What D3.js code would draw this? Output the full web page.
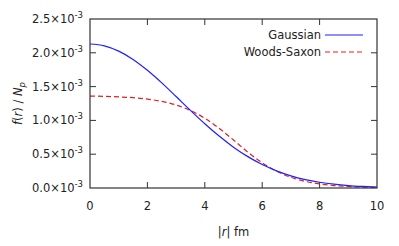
<!DOCTYPE html>
<html>
<head>
<meta charset="utf-8">
<script src="https://cdn.jsdelivr.net/npm/d3@7"></script>
<style>
  body { margin: 0; background: #fff; }
  svg { display: block; font-family: "DejaVu Sans", sans-serif; }
</style>
</head>
<body>
<script>
// radius |r| in fm
var radius = [0, 0.5, 1, 1.5, 2, 2.5, 3, 3.5, 4, 4.5, 5, 5.5, 6, 6.5, 7, 7.5, 8, 8.5, 9, 9.5, 10];
// f(r)/Np in units of 1e-3
var gaussian = [2.130, 2.103, 2.025, 1.902, 1.741, 1.555, 1.353, 1.149, 0.951, 0.768, 0.604,
                0.464, 0.347, 0.254, 0.180, 0.125, 0.085, 0.056, 0.036, 0.023, 0.014];
var woodsSaxon = [1.360, 1.356, 1.348, 1.336, 1.315, 1.281, 1.228, 1.147, 1.032, 0.883, 0.709,
                  0.531, 0.373, 0.248, 0.158, 0.098, 0.060, 0.036, 0.022, 0.013, 0.008];
var xTicks = [0, 2, 4, 6, 8, 10];
var yTicks = [0, 0.5, 1.0, 1.5, 2.0, 2.5];
var seriesNames = ["Gaussian", "Woods-Saxon"];
var seriesColors = ["#1f1fff", "#e02020"];

var W = 399, H = 246;
var margin = {top: 19, right: 22, bottom: 58, left: 90},
    width = W - margin.left - margin.right,
    height = H - margin.top - margin.bottom;

var svg = d3.select("body").append("svg")
    .attr("width", W)
    .attr("height", H);

var g = svg.append("g")
    .attr("transform", "translate(" + margin.left + "," + margin.top + ")");

var x = d3.scaleLinear().domain([0, 10]).range([0, width]);
var y = d3.scaleLinear().domain([0, 2.5]).range([height, 0]);

var tickLen = 6, axisColor = "#333";

// inward ticks on all four sides
var ax = g.append("g").attr("stroke", axisColor).attr("stroke-width", 1);
xTicks.forEach(function(t) {
  if (t == 0 || t == 10) return;
  ax.append("line").attr("x1", x(t)).attr("x2", x(t)).attr("y1", height).attr("y2", height - tickLen);
  ax.append("line").attr("x1", x(t)).attr("x2", x(t)).attr("y1", 0).attr("y2", tickLen);
});
yTicks.forEach(function(t) {
  if (t == 0 || t == 2.5) return;
  ax.append("line").attr("x1", 0).attr("x2", tickLen).attr("y1", y(t)).attr("y2", y(t));
  ax.append("line").attr("x1", width).attr("x2", width - tickLen).attr("y1", y(t)).attr("y2", y(t));
});

// tick labels
g.selectAll(".xl").data(xTicks).enter().append("text")
    .attr("x", function(d) { return x(d); })
    .attr("y", height + 22)
    .attr("text-anchor", "middle")
    .attr("font-size", 11.5)
    .attr("fill", "#222")
    .text(function(d) { return d; });

var yl = g.selectAll(".yl").data(yTicks).enter().append("text")
    .attr("x", -7)
    .attr("y", function(d) { return y(d) + 4; })
    .attr("text-anchor", "end")
    .attr("font-size", 11.5)
    .attr("fill", "#222");
yl.append("tspan").text(function(d) { return d3.format(".1f")(d) + "\u00d710"; });
yl.append("tspan").attr("dy", -5).attr("font-size", 8.5).text("-3");

// curves
var line = d3.line()
    .x(function(d) { return x(d[0]); })
    .y(function(d) { return y(d[1]); })
    .curve(d3.curveMonotoneX);

g.append("path")
    .datum(radius.map(function(r, i) { return [r, woodsSaxon[i]]; }))
    .attr("fill", "none")
    .attr("stroke", seriesColors[1])
    .attr("stroke-width", 1.2)
    .attr("stroke-dasharray", "5,3")
    .attr("d", line);

g.append("path")
    .datum(radius.map(function(r, i) { return [r, gaussian[i]]; }))
    .attr("fill", "none")
    .attr("stroke", seriesColors[0])
    .attr("stroke-width", 1.2)
    .attr("d", line);

// border
g.append("rect")
    .attr("width", width).attr("height", height)
    .attr("fill", "none").attr("stroke", axisColor).attr("stroke-width", 1.2);

// legend
var leg = g.append("g").attr("transform", "translate(" + (width - 56) + ",16)");
seriesNames.forEach(function(name, i) {
  leg.append("text")
      .attr("x", 0).attr("y", i * 17 + 4)
      .attr("text-anchor", "end")
      .attr("font-size", 11.5)
      .attr("fill", "#222")
      .text(name);
  leg.append("line")
      .attr("x1", 4).attr("x2", 42)
      .attr("y1", i * 17).attr("y2", i * 17)
      .attr("stroke", seriesColors[i])
      .attr("stroke-width", 1.2)
      .attr("stroke-dasharray", i == 1 ? "5,3" : null);
});

// axis titles
svg.append("text")
    .attr("x", margin.left + width / 2)
    .attr("y", H - 10)
    .attr("text-anchor", "middle")
    .attr("font-size", 11.5)
    .attr("fill", "#222")
    .html('|<tspan font-style="italic">r</tspan>| fm');

svg.append("text")
    .attr("transform", "translate(22," + (margin.top + height / 2) + ") rotate(-90)")
    .attr("text-anchor", "middle")
    .attr("font-size", 11.5)
    .attr("fill", "#222")
    .html('<tspan font-style="italic">f</tspan>(<tspan font-style="italic">r</tspan>) / <tspan font-style="italic">N</tspan><tspan font-style="italic" font-size="8.5" dy="3">p</tspan>');
</script>
</body>
</html>
